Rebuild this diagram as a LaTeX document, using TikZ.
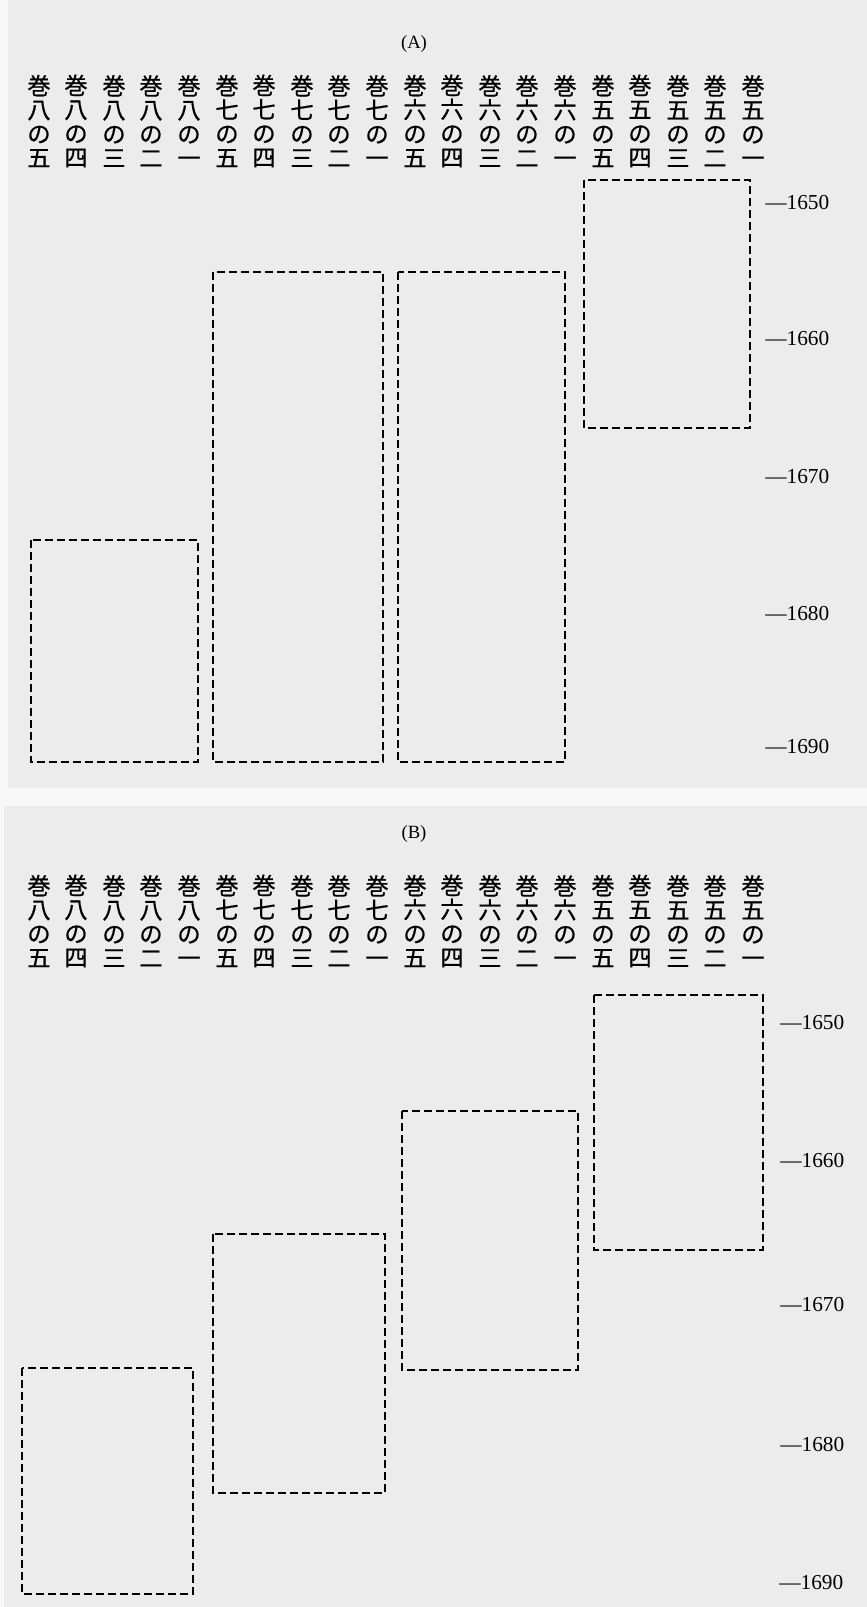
\documentclass[tikz,border=0pt]{standalone}
\usepackage{fontspec}
\usepackage{xcolor}
\usepackage{tikz}
\setmainfont{Liberation Serif}
\newfontfamily\jpfont[FakeBold=0.6]{Noto Sans CJK JP}
\definecolor{paper}{RGB}{236,236,236}
\definecolor{paperstrip}{RGB}{248,248,248}

\begin{document}
\begin{tikzpicture}[
  x=0.75pt, y=-0.75pt,
  vlab/.style={align=center, inner sep=0pt,
               font=\jpfont\fontsize{17.5pt}{18pt}\selectfont},
  tick/.style={anchor=west, inner sep=0pt, font=\fontsize{16pt}{18pt}\selectfont},
  ttl/.style={inner sep=0pt, font=\fontsize{14pt}{16pt}\selectfont},
  dbox/.style={draw=black, line width=2.2pt, dash pattern=on 6pt off 3pt},
]
  \useasboundingbox (0,0) rectangle (867,1607);

  % Page backgrounds
  \fill[paperstrip] (0,0) rectangle (867,1607);
  \fill[paper] (8,0) rectangle (867,788);
  \fill[paper] (4,806) rectangle (867,1607);

  % Panel (A): title and column labels
  \node[ttl] (titA) at (414,44) {(A)};
  \node[vlab] (a51) at (753,121) {巻\\五\\の\\一};
  \node[vlab] (a52) at (715,121) {巻\\五\\の\\二};
  \node[vlab] (a53) at (678,121) {巻\\五\\の\\三};
  \node[vlab] (a54) at (640,121) {巻\\五\\の\\四};
  \node[vlab] (a55) at (603,121) {巻\\五\\の\\五};
  \node[vlab] (a61) at (565,121) {巻\\六\\の\\一};
  \node[vlab] (a62) at (527,121) {巻\\六\\の\\二};
  \node[vlab] (a63) at (490,121) {巻\\六\\の\\三};
  \node[vlab] (a64) at (452,121) {巻\\六\\の\\四};
  \node[vlab] (a65) at (415,121) {巻\\六\\の\\五};
  \node[vlab] (a71) at (377,121) {巻\\七\\の\\一};
  \node[vlab] (a72) at (339,121) {巻\\七\\の\\二};
  \node[vlab] (a73) at (302,121) {巻\\七\\の\\三};
  \node[vlab] (a74) at (264,121) {巻\\七\\の\\四};
  \node[vlab] (a75) at (227,121) {巻\\七\\の\\五};
  \node[vlab] (a81) at (189,121) {巻\\八\\の\\一};
  \node[vlab] (a82) at (151,121) {巻\\八\\の\\二};
  \node[vlab] (a83) at (114,121) {巻\\八\\の\\三};
  \node[vlab] (a84) at (76,121) {巻\\八\\の\\四};
  \node[vlab] (a85) at (39,121) {巻\\八\\の\\五};

  % Panel (A): year marks
  \node[tick] (ta1650) at (765,203) {—1650};
  \node[tick] (ta1660) at (765,339) {—1660};
  \node[tick] (ta1670) at (765,477) {—1670};
  \node[tick] (ta1680) at (765,613) {—1680};
  \node[tick] (ta1690) at (765,746) {—1690};

  % Panel (A): dashed frames
  \draw[dbox] (584,180) rectangle (750,428);
  \draw[dbox] (398,272) rectangle (565,762);
  \draw[dbox] (213,272) rectangle (383,762);
  \draw[dbox] (31,540) rectangle (198,762);

  % Panel (B): title and column labels
  \node[ttl] (titB) at (414,834) {(B)};
  \node[vlab] (b51) at (753,921) {巻\\五\\の\\一};
  \node[vlab] (b52) at (715,921) {巻\\五\\の\\二};
  \node[vlab] (b53) at (678,921) {巻\\五\\の\\三};
  \node[vlab] (b54) at (640,921) {巻\\五\\の\\四};
  \node[vlab] (b55) at (603,921) {巻\\五\\の\\五};
  \node[vlab] (b61) at (565,921) {巻\\六\\の\\一};
  \node[vlab] (b62) at (527,921) {巻\\六\\の\\二};
  \node[vlab] (b63) at (490,921) {巻\\六\\の\\三};
  \node[vlab] (b64) at (452,921) {巻\\六\\の\\四};
  \node[vlab] (b65) at (415,921) {巻\\六\\の\\五};
  \node[vlab] (b71) at (377,921) {巻\\七\\の\\一};
  \node[vlab] (b72) at (339,921) {巻\\七\\の\\二};
  \node[vlab] (b73) at (302,921) {巻\\七\\の\\三};
  \node[vlab] (b74) at (264,921) {巻\\七\\の\\四};
  \node[vlab] (b75) at (227,921) {巻\\七\\の\\五};
  \node[vlab] (b81) at (189,921) {巻\\八\\の\\一};
  \node[vlab] (b82) at (151,921) {巻\\八\\の\\二};
  \node[vlab] (b83) at (114,921) {巻\\八\\の\\三};
  \node[vlab] (b84) at (76,921) {巻\\八\\の\\四};
  \node[vlab] (b85) at (39,921) {巻\\八\\の\\五};

  % Panel (B): year marks
  \node[tick] (tb1650) at (780,1022) {—1650};
  \node[tick] (tb1660) at (780,1160) {—1660};
  \node[tick] (tb1670) at (780,1304) {—1670};
  \node[tick] (tb1680) at (780,1444) {—1680};
  \node[tick] (tb1690) at (779,1582) {—1690};

  % Panel (B): dashed frames
  \draw[dbox] (594,995) rectangle (763,1250);
  \draw[dbox] (402,1111) rectangle (578,1370);
  \draw[dbox] (213,1234) rectangle (385,1493);
  \draw[dbox] (22,1368) rectangle (193,1594);
\end{tikzpicture}
\end{document}
